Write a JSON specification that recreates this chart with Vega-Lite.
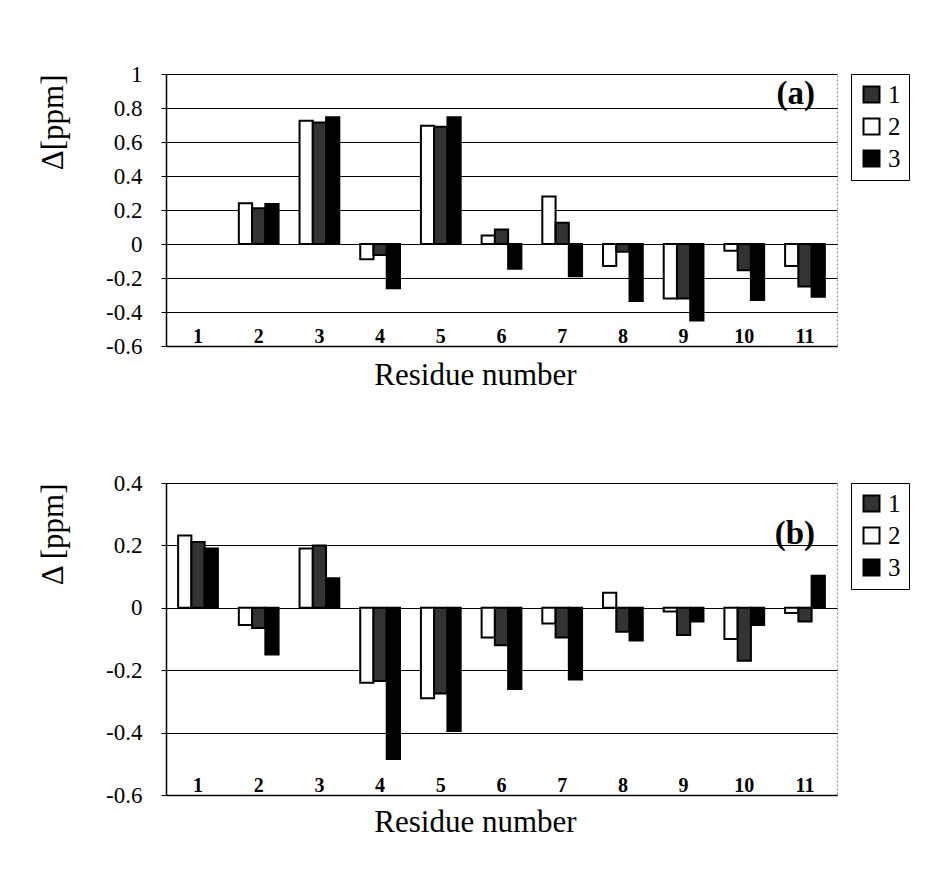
{
  "$schema": "https://vega.github.io/schema/vega-lite/v6.json",
  "background": "white",
  "padding": {"left": 37, "top": 62, "right": 5, "bottom": 5},
  "config": {
    "font": "Liberation Serif",
    "view": {"stroke": "#888888", "strokeDash": [2, 2], "strokeWidth": 1},
    "style": {"guide-label": {"font": "Liberation Serif"}, "guide-title": {"font": "Liberation Serif"}}
  },
  "datasets": {
    "a": [
      {"residue": "2", "series": "2", "delta": 0.24}, {"residue": "2", "series": "1", "delta": 0.21}, {"residue": "2", "series": "3", "delta": 0.235},
      {"residue": "3", "series": "2", "delta": 0.725}, {"residue": "3", "series": "1", "delta": 0.715}, {"residue": "3", "series": "3", "delta": 0.745},
      {"residue": "4", "series": "2", "delta": -0.09}, {"residue": "4", "series": "1", "delta": -0.065}, {"residue": "4", "series": "3", "delta": -0.26},
      {"residue": "5", "series": "2", "delta": 0.695}, {"residue": "5", "series": "1", "delta": 0.69}, {"residue": "5", "series": "3", "delta": 0.745},
      {"residue": "6", "series": "2", "delta": 0.05}, {"residue": "6", "series": "1", "delta": 0.085}, {"residue": "6", "series": "3", "delta": -0.145},
      {"residue": "7", "series": "2", "delta": 0.28}, {"residue": "7", "series": "1", "delta": 0.125}, {"residue": "7", "series": "3", "delta": -0.19},
      {"residue": "8", "series": "2", "delta": -0.13}, {"residue": "8", "series": "1", "delta": -0.045}, {"residue": "8", "series": "3", "delta": -0.335},
      {"residue": "9", "series": "2", "delta": -0.32}, {"residue": "9", "series": "1", "delta": -0.32}, {"residue": "9", "series": "3", "delta": -0.45},
      {"residue": "10", "series": "2", "delta": -0.04}, {"residue": "10", "series": "1", "delta": -0.155}, {"residue": "10", "series": "3", "delta": -0.33},
      {"residue": "11", "series": "2", "delta": -0.13}, {"residue": "11", "series": "1", "delta": -0.25}, {"residue": "11", "series": "3", "delta": -0.31}
    ],
    "b": [
      {"residue": "1", "series": "2", "delta": 0.232}, {"residue": "1", "series": "1", "delta": 0.211}, {"residue": "1", "series": "3", "delta": 0.19},
      {"residue": "2", "series": "2", "delta": -0.055}, {"residue": "2", "series": "1", "delta": -0.065}, {"residue": "2", "series": "3", "delta": -0.15},
      {"residue": "3", "series": "2", "delta": 0.19}, {"residue": "3", "series": "1", "delta": 0.2}, {"residue": "3", "series": "3", "delta": 0.095},
      {"residue": "4", "series": "2", "delta": -0.24}, {"residue": "4", "series": "1", "delta": -0.235}, {"residue": "4", "series": "3", "delta": -0.485},
      {"residue": "5", "series": "2", "delta": -0.29}, {"residue": "5", "series": "1", "delta": -0.275}, {"residue": "5", "series": "3", "delta": -0.395},
      {"residue": "6", "series": "2", "delta": -0.095}, {"residue": "6", "series": "1", "delta": -0.12}, {"residue": "6", "series": "3", "delta": -0.26},
      {"residue": "7", "series": "2", "delta": -0.05}, {"residue": "7", "series": "1", "delta": -0.095}, {"residue": "7", "series": "3", "delta": -0.23},
      {"residue": "8", "series": "2", "delta": 0.048}, {"residue": "8", "series": "1", "delta": -0.077}, {"residue": "8", "series": "3", "delta": -0.105},
      {"residue": "9", "series": "2", "delta": -0.012}, {"residue": "9", "series": "1", "delta": -0.087}, {"residue": "9", "series": "3", "delta": -0.044},
      {"residue": "10", "series": "2", "delta": -0.1}, {"residue": "10", "series": "1", "delta": -0.17}, {"residue": "10", "series": "3", "delta": -0.055},
      {"residue": "11", "series": "2", "delta": -0.017}, {"residue": "11", "series": "1", "delta": -0.044}, {"residue": "11", "series": "3", "delta": 0.103}
    ]
  },
  "spacing": 80,
  "resolve": {"legend": {"color": "independent"}},
  "vconcat": [
    {
      "width": 671, "height": 272,
      "layer": [
        {
          "data": {"name": "a"},
          "mark": {"type": "bar", "stroke": "black", "strokeWidth": 2},
          "encoding": {
            "x": {"field": "residue", "type": "nominal", "title": "Residue number",
                  "scale": {"domain": ["1","2","3","4","5","6","7","8","9","10","11"], "paddingInner": 0.345, "paddingOuter": 0.2},
                  "axis": {"labelFont": "Liberation Serif", "labelFontSize": 20, "labelFontWeight": "bold", "labelColor": "black",
                           "labelAngle": 0, "labelPadding": -20, "ticks": false, "domainColor": "black", "domainWidth": 1.5,
                           "grid": false, "titleFont": "Liberation Serif", "titleFontSize": 31, "titleFontWeight": "normal",
                           "titleColor": "black", "titlePadding": 14, "titleX": 309, "titleAlign": "center"}},
            "xOffset": {"field": "series", "type": "nominal", "scale": {"domain": ["2","1","3"], "paddingInner": 0, "paddingOuter": 0}},
            "y": {"field": "delta", "type": "quantitative", "title": "Δ[ppm]",
                  "scale": {"domain": [-0.6, 1], "nice": false},
                  "axis": {"values": [-0.6, -0.4, -0.2, 0, 0.2, 0.4, 0.6, 0.8, 1], "tickCount": 20, "format": "~g", "labelExpr": "replace(datum.label, '−', '-')",
                           "labelOverlap": false, "labelFont": "Liberation Serif", "labelFontSize": 23, "labelColor": "black", "labelPadding": 19,
                           "tickSize": 5, "tickColor": "black", "domainColor": "black", "domainWidth": 1.5,
                           "grid": true, "gridColor": "black", "gridWidth": 1.2, "gridOpacity": 1,
                           "titleFont": "Liberation Serif", "titleFontSize": 31, "titleFontWeight": "normal", "titleColor": "black",
                           "titleAnchor": "end", "titlePadding": 36}},
            "color": {"field": "series", "type": "nominal", "scale": {"domain": ["1","2","3"], "range": ["#333333", "white", "black"]},
                      "legend": {"title": null, "labelFont": "Liberation Serif", "labelFontSize": 25, "labelColor": "black",
                                 "symbolType": "square", "symbolSize": 256, "symbolStrokeColor": "black", "symbolStrokeWidth": 2,
                                 "strokeColor": "black", "padding": 8, "rowPadding": 6, "offset": 14, "labelOffset": 4, "orient": "right"}}
          }
        },
        {
          "data": {"values": [{"label": "(a)", "residue": "11", "pos": 0.88}]},
          "mark": {"type": "text", "align": "right", "baseline": "middle", "dx": 10, "font": "Liberation Serif", "fontSize": 33, "fontWeight": "bold", "color": "black"},
          "encoding": {
            "x": {"field": "residue", "type": "nominal"},
            "y": {"field": "pos", "type": "quantitative"},
            "text": {"field": "label"}
          }
        }
      ]
    },
    {
      "width": 671, "height": 312,
      "layer": [
        {
          "data": {"name": "b"},
          "mark": {"type": "bar", "stroke": "black", "strokeWidth": 2},
          "encoding": {
            "x": {"field": "residue", "type": "nominal", "title": "Residue number",
                  "scale": {"domain": ["1","2","3","4","5","6","7","8","9","10","11"], "paddingInner": 0.345, "paddingOuter": 0.2},
                  "axis": {"labelFont": "Liberation Serif", "labelFontSize": 20, "labelFontWeight": "bold", "labelColor": "black",
                           "labelAngle": 0, "labelPadding": -20, "ticks": false, "domainColor": "black", "domainWidth": 1.5,
                           "grid": false, "titleFont": "Liberation Serif", "titleFontSize": 31, "titleFontWeight": "normal",
                           "titleColor": "black", "titlePadding": 12, "titleX": 309, "titleAlign": "center"}},
            "xOffset": {"field": "series", "type": "nominal", "scale": {"domain": ["2","1","3"], "paddingInner": 0, "paddingOuter": 0}},
            "y": {"field": "delta", "type": "quantitative", "title": "Δ [ppm]",
                  "scale": {"domain": [-0.6, 0.4], "nice": false},
                  "axis": {"values": [-0.6, -0.4, -0.2, 0, 0.2, 0.4], "tickCount": 20, "format": "~g", "labelExpr": "replace(datum.label, '−', '-')",
                           "labelOverlap": false, "labelFont": "Liberation Serif", "labelFontSize": 23, "labelColor": "black", "labelPadding": 19,
                           "tickSize": 5, "tickColor": "black", "domainColor": "black", "domainWidth": 1.5,
                           "grid": true, "gridColor": "black", "gridWidth": 1.2, "gridOpacity": 1,
                           "titleFont": "Liberation Serif", "titleFontSize": 31, "titleFontWeight": "normal", "titleColor": "black",
                           "titleAnchor": "end", "titlePadding": 36}},
            "color": {"field": "series", "type": "nominal", "scale": {"domain": ["1","2","3"], "range": ["#333333", "white", "black"]},
                      "legend": {"title": null, "labelFont": "Liberation Serif", "labelFontSize": 25, "labelColor": "black",
                                 "symbolType": "square", "symbolSize": 256, "symbolStrokeColor": "black", "symbolStrokeWidth": 2,
                                 "strokeColor": "black", "padding": 8, "rowPadding": 6, "offset": 14, "labelOffset": 4, "orient": "right"}}
          }
        },
        {
          "data": {"values": [{"label": "(b)", "residue": "11", "pos": 0.235}]},
          "mark": {"type": "text", "align": "right", "baseline": "middle", "dx": 10, "font": "Liberation Serif", "fontSize": 33, "fontWeight": "bold", "color": "black"},
          "encoding": {
            "x": {"field": "residue", "type": "nominal"},
            "y": {"field": "pos", "type": "quantitative"},
            "text": {"field": "label"}
          }
        }
      ]
    }
  ]
}
